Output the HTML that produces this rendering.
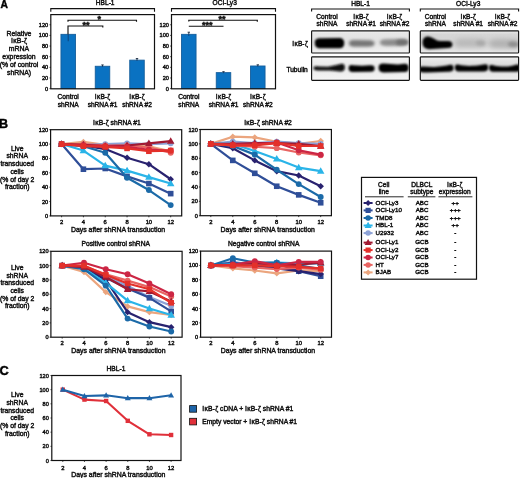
<!DOCTYPE html>
<html><head><meta charset="utf-8"><style>
html,body{margin:0;padding:0;background:#fff;width:520px;height:478px;overflow:hidden}
svg{display:block;font-family:"Liberation Sans", sans-serif;filter:blur(0.3px)}
</style></head><body>
<svg width="520" height="478" viewBox="0 0 520 478">
<g transform="translate(0.6,7.9) scale(0.87,1)">
<text x="0" y="0" font-size="11.8" text-anchor="start" font-weight="bold" fill="#000" stroke="#000" stroke-width="0.45">A</text>
</g>
<text x="-0.9" y="127.5" font-size="12.5" text-anchor="start" font-weight="bold" fill="#000" stroke="#000" stroke-width="0.45">B</text>
<text x="-0.6" y="375.2" font-size="12.8" text-anchor="start" font-weight="bold" fill="#000" stroke="#000" stroke-width="0.45">C</text>
<polyline points="50.8,11.8 50.8,8.6 154.5,8.6 154.5,11.8" stroke="#111" stroke-width="1.1" fill="none"/>
<text x="105.2" y="5.4" font-size="6.6" text-anchor="middle" font-weight="normal" fill="#111" stroke="#111" stroke-width="0.42">HBL-1</text>
<rect x="60.95" y="34.34" width="14.5" height="54.26" fill="#0a72c2" stroke="#155e9c" stroke-width="0.9"/>
<line x1="68.2" y1="34.34" x2="68.2" y2="41.25" stroke="#0b3d75" stroke-width="0.9"/>
<rect x="95.25" y="66.26" width="14.5" height="22.34" fill="#0a72c2" stroke="#155e9c" stroke-width="0.9"/>
<line x1="102.5" y1="64.93" x2="102.5" y2="66.26" stroke="#1a2a40" stroke-width="0.9"/>
<line x1="101.3" y1="64.93" x2="103.7" y2="64.93" stroke="#1a2a40" stroke-width="0.9"/>
<line x1="102.5" y1="66.26" x2="102.5" y2="67.05" stroke="#0b3d75" stroke-width="0.9"/>
<rect x="129.75" y="60.14" width="14.5" height="28.46" fill="#0a72c2" stroke="#155e9c" stroke-width="0.9"/>
<line x1="137" y1="58.54" x2="137" y2="60.14" stroke="#1a2a40" stroke-width="0.9"/>
<line x1="135.8" y1="58.54" x2="138.2" y2="58.54" stroke="#1a2a40" stroke-width="0.9"/>
<line x1="137" y1="60.14" x2="137" y2="60.94" stroke="#0b3d75" stroke-width="0.9"/>
<polyline points="68,21.8 68,20.2 136.5,20.2 136.5,21.8" stroke="#111" stroke-width="1.15" fill="none"/>
<text x="99.3" y="22.1" font-size="9" text-anchor="middle" font-weight="bold" fill="#111" stroke="#111" stroke-width="0.45">*</text>
<polyline points="68,34.3 68,26 102.8,26 102.8,27.6" stroke="#111" stroke-width="1.15" fill="none"/>
<text x="85.9" y="27.9" font-size="9" text-anchor="middle" font-weight="bold" fill="#111" stroke="#111" stroke-width="0.45">**</text>
<rect x="50.8" y="14.6" width="103.7" height="74.2" fill="none" stroke="#111" stroke-width="1.2"/>
<line x1="49.5" y1="88.6" x2="50.8" y2="88.6" stroke="#111" stroke-width="0.8"/>
<text x="48.2" y="90.6" font-size="5.6" text-anchor="end" font-weight="normal" fill="#111" stroke="#111" stroke-width="0.42">0</text>
<line x1="49.5" y1="77.96" x2="50.8" y2="77.96" stroke="#111" stroke-width="0.8"/>
<text x="48.2" y="79.96" font-size="5.6" text-anchor="end" font-weight="normal" fill="#111" stroke="#111" stroke-width="0.42">20</text>
<line x1="49.5" y1="67.32" x2="50.8" y2="67.32" stroke="#111" stroke-width="0.8"/>
<text x="48.2" y="69.32" font-size="5.6" text-anchor="end" font-weight="normal" fill="#111" stroke="#111" stroke-width="0.42">40</text>
<line x1="49.5" y1="56.68" x2="50.8" y2="56.68" stroke="#111" stroke-width="0.8"/>
<text x="48.2" y="58.68" font-size="5.6" text-anchor="end" font-weight="normal" fill="#111" stroke="#111" stroke-width="0.42">60</text>
<line x1="49.5" y1="46.04" x2="50.8" y2="46.04" stroke="#111" stroke-width="0.8"/>
<text x="48.2" y="48.04" font-size="5.6" text-anchor="end" font-weight="normal" fill="#111" stroke="#111" stroke-width="0.42">80</text>
<line x1="49.5" y1="35.4" x2="50.8" y2="35.4" stroke="#111" stroke-width="0.8"/>
<text x="48.2" y="37.4" font-size="5.6" text-anchor="end" font-weight="normal" fill="#111" stroke="#111" stroke-width="0.42">100</text>
<line x1="49.5" y1="24.76" x2="50.8" y2="24.76" stroke="#111" stroke-width="0.8"/>
<text x="48.2" y="26.76" font-size="5.6" text-anchor="end" font-weight="normal" fill="#111" stroke="#111" stroke-width="0.42">120</text>
<text x="68.2" y="98.8" font-size="6.6" text-anchor="middle" font-weight="normal" fill="#111" stroke="#111" stroke-width="0.42">Control</text>
<text x="68.2" y="106.6" font-size="6.6" text-anchor="middle" font-weight="normal" fill="#111" stroke="#111" stroke-width="0.42">shRNA</text>
<text x="102.5" y="98.8" font-size="6.6" text-anchor="middle" font-weight="normal" fill="#111" stroke="#111" stroke-width="0.42">I<tspan dx="0.35">κ</tspan><tspan dx="0.15">B</tspan>-<tspan dx="0.35">ζ</tspan></text>
<text x="102.5" y="106.6" font-size="6.6" text-anchor="middle" font-weight="normal" fill="#111" stroke="#111" stroke-width="0.42">shRNA #1</text>
<text x="137" y="98.8" font-size="6.6" text-anchor="middle" font-weight="normal" fill="#111" stroke="#111" stroke-width="0.42">I<tspan dx="0.35">κ</tspan><tspan dx="0.15">B</tspan>-<tspan dx="0.35">ζ</tspan></text>
<text x="137" y="106.6" font-size="6.6" text-anchor="middle" font-weight="normal" fill="#111" stroke="#111" stroke-width="0.42">shRNA #2</text>
<polyline points="171.5,11.8 171.5,8.6 275.5,8.6 275.5,11.8" stroke="#111" stroke-width="1.1" fill="none"/>
<text x="224.7" y="5.4" font-size="6.6" text-anchor="middle" font-weight="normal" fill="#111" stroke="#111" stroke-width="0.42">OCI-Ly3</text>
<rect x="181.55" y="34.34" width="14.5" height="54.26" fill="#0a72c2" stroke="#155e9c" stroke-width="0.9"/>
<line x1="188.8" y1="32.21" x2="188.8" y2="34.34" stroke="#1a2a40" stroke-width="0.9"/>
<line x1="187.6" y1="32.21" x2="190" y2="32.21" stroke="#1a2a40" stroke-width="0.9"/>
<line x1="188.8" y1="34.34" x2="188.8" y2="35.93" stroke="#0b3d75" stroke-width="0.9"/>
<rect x="216.25" y="72.64" width="14.5" height="15.96" fill="#0a72c2" stroke="#155e9c" stroke-width="0.9"/>
<line x1="223.5" y1="71.68" x2="223.5" y2="72.64" stroke="#1a2a40" stroke-width="0.9"/>
<line x1="222.3" y1="71.68" x2="224.7" y2="71.68" stroke="#1a2a40" stroke-width="0.9"/>
<line x1="223.5" y1="72.64" x2="223.5" y2="73.17" stroke="#0b3d75" stroke-width="0.9"/>
<rect x="250.55" y="65.99" width="14.5" height="22.61" fill="#0a72c2" stroke="#155e9c" stroke-width="0.9"/>
<line x1="257.8" y1="64.82" x2="257.8" y2="65.99" stroke="#1a2a40" stroke-width="0.9"/>
<line x1="256.6" y1="64.82" x2="259" y2="64.82" stroke="#1a2a40" stroke-width="0.9"/>
<line x1="257.8" y1="65.99" x2="257.8" y2="66.52" stroke="#0b3d75" stroke-width="0.9"/>
<polyline points="188.8,21.6 188.8,20.2 257.3,20.2 257.3,21.8" stroke="#111" stroke-width="1.15" fill="none"/>
<text x="222" y="22.1" font-size="9" text-anchor="middle" font-weight="bold" fill="#111" stroke="#111" stroke-width="0.45">**</text>
<polyline points="188.8,26.2 188.8,26.2 223.5,26.2 223.5,26.2" stroke="#111" stroke-width="1.15" fill="none"/>
<text x="207.2" y="28.1" font-size="9" text-anchor="middle" font-weight="bold" fill="#111" stroke="#111" stroke-width="0.45">***</text>
<rect x="171.5" y="14.6" width="104" height="74.2" fill="none" stroke="#111" stroke-width="1.2"/>
<line x1="170.2" y1="88.6" x2="171.5" y2="88.6" stroke="#111" stroke-width="0.8"/>
<text x="168.9" y="90.6" font-size="5.6" text-anchor="end" font-weight="normal" fill="#111" stroke="#111" stroke-width="0.42">0</text>
<line x1="170.2" y1="77.96" x2="171.5" y2="77.96" stroke="#111" stroke-width="0.8"/>
<text x="168.9" y="79.96" font-size="5.6" text-anchor="end" font-weight="normal" fill="#111" stroke="#111" stroke-width="0.42">20</text>
<line x1="170.2" y1="67.32" x2="171.5" y2="67.32" stroke="#111" stroke-width="0.8"/>
<text x="168.9" y="69.32" font-size="5.6" text-anchor="end" font-weight="normal" fill="#111" stroke="#111" stroke-width="0.42">40</text>
<line x1="170.2" y1="56.68" x2="171.5" y2="56.68" stroke="#111" stroke-width="0.8"/>
<text x="168.9" y="58.68" font-size="5.6" text-anchor="end" font-weight="normal" fill="#111" stroke="#111" stroke-width="0.42">60</text>
<line x1="170.2" y1="46.04" x2="171.5" y2="46.04" stroke="#111" stroke-width="0.8"/>
<text x="168.9" y="48.04" font-size="5.6" text-anchor="end" font-weight="normal" fill="#111" stroke="#111" stroke-width="0.42">80</text>
<line x1="170.2" y1="35.4" x2="171.5" y2="35.4" stroke="#111" stroke-width="0.8"/>
<text x="168.9" y="37.4" font-size="5.6" text-anchor="end" font-weight="normal" fill="#111" stroke="#111" stroke-width="0.42">100</text>
<line x1="170.2" y1="24.76" x2="171.5" y2="24.76" stroke="#111" stroke-width="0.8"/>
<text x="168.9" y="26.76" font-size="5.6" text-anchor="end" font-weight="normal" fill="#111" stroke="#111" stroke-width="0.42">120</text>
<text x="188.8" y="98.8" font-size="6.6" text-anchor="middle" font-weight="normal" fill="#111" stroke="#111" stroke-width="0.42">Control</text>
<text x="188.8" y="106.6" font-size="6.6" text-anchor="middle" font-weight="normal" fill="#111" stroke="#111" stroke-width="0.42">shRNA</text>
<text x="223.5" y="98.8" font-size="6.6" text-anchor="middle" font-weight="normal" fill="#111" stroke="#111" stroke-width="0.42">I<tspan dx="0.35">κ</tspan><tspan dx="0.15">B</tspan>-<tspan dx="0.35">ζ</tspan></text>
<text x="223.5" y="106.6" font-size="6.6" text-anchor="middle" font-weight="normal" fill="#111" stroke="#111" stroke-width="0.42">shRNA #1</text>
<text x="257.8" y="98.8" font-size="6.6" text-anchor="middle" font-weight="normal" fill="#111" stroke="#111" stroke-width="0.42">I<tspan dx="0.35">κ</tspan><tspan dx="0.15">B</tspan>-<tspan dx="0.35">ζ</tspan></text>
<text x="257.8" y="106.6" font-size="6.6" text-anchor="middle" font-weight="normal" fill="#111" stroke="#111" stroke-width="0.42">shRNA #2</text>
<text x="19" y="35.6" font-size="6.9" text-anchor="middle" font-weight="normal" fill="#111" stroke="#111" stroke-width="0.42">Relative</text>
<text x="19" y="43.4" font-size="6.9" text-anchor="middle" font-weight="normal" fill="#111" stroke="#111" stroke-width="0.42">I<tspan dx="0.35">κ</tspan><tspan dx="0.15">B</tspan>-<tspan dx="0.35">ζ</tspan></text>
<text x="19" y="51.2" font-size="6.9" text-anchor="middle" font-weight="normal" fill="#111" stroke="#111" stroke-width="0.42">mRNA</text>
<text x="19" y="59" font-size="6.9" text-anchor="middle" font-weight="normal" fill="#111" stroke="#111" stroke-width="0.42">expression</text>
<text x="19" y="66.8" font-size="6.9" text-anchor="middle" font-weight="normal" fill="#111" stroke="#111" stroke-width="0.42">(% of control</text>
<text x="19" y="74.6" font-size="6.9" text-anchor="middle" font-weight="normal" fill="#111" stroke="#111" stroke-width="0.42">shRNA)</text>
<defs><filter id="bl1" x="-30%" y="-80%" width="160%" height="260%"><feGaussianBlur stdDeviation="1.0"/></filter><filter id="bl2" x="-30%" y="-80%" width="160%" height="260%"><feGaussianBlur stdDeviation="1.7"/></filter><filter id="bl3" x="-30%" y="-80%" width="160%" height="260%"><feGaussianBlur stdDeviation="2.6"/></filter><clipPath id="cb1"><rect x="311.6" y="30.8" width="97.8" height="22.2"/></clipPath><clipPath id="cb2"><rect x="311.6" y="56.8" width="97.8" height="23.5"/></clipPath><clipPath id="cb3"><rect x="420.3" y="30.8" width="98.3" height="22.2"/></clipPath><clipPath id="cb4"><rect x="420.3" y="56.8" width="98.3" height="23.5"/></clipPath><linearGradient id="gH1" x1="0" y1="0" x2="0" y2="1"><stop offset="0" stop-color="#f6f6f6"/><stop offset="0.12" stop-color="#e6e6e6"/><stop offset="0.5" stop-color="#e2e2e2"/><stop offset="1" stop-color="#f2f2f2"/></linearGradient><linearGradient id="gH2" x1="0" y1="0" x2="0" y2="1"><stop offset="0" stop-color="#f4f4f4"/><stop offset="0.4" stop-color="#eaeaea"/><stop offset="1" stop-color="#f4f4f4"/></linearGradient><linearGradient id="gO1" x1="0" y1="0" x2="0" y2="1"><stop offset="0" stop-color="#eeeeee"/><stop offset="0.15" stop-color="#d6d6d6"/><stop offset="0.55" stop-color="#d2d2d2"/><stop offset="1" stop-color="#e8e8e8"/></linearGradient><linearGradient id="gO2" x1="0" y1="0" x2="0" y2="1"><stop offset="0" stop-color="#eeeeee"/><stop offset="0.3" stop-color="#dedede"/><stop offset="1" stop-color="#ececec"/></linearGradient></defs>
<polyline points="311.6,11.6 311.6,9 409.4,9 409.4,11.6" stroke="#111" stroke-width="1.1" fill="none"/>
<text x="360.5" y="5.6" font-size="6.6" text-anchor="middle" font-weight="normal" fill="#111" stroke="#111" stroke-width="0.42">HBL-1</text>
<text x="327" y="18.6" font-size="6.6" text-anchor="middle" font-weight="normal" fill="#111" stroke="#111" stroke-width="0.42">Control</text>
<text x="327" y="26.3" font-size="6.6" text-anchor="middle" font-weight="normal" fill="#111" stroke="#111" stroke-width="0.42">shRNA</text>
<text x="361" y="18.6" font-size="6.6" text-anchor="middle" font-weight="normal" fill="#111" stroke="#111" stroke-width="0.42">I<tspan dx="0.35">κ</tspan><tspan dx="0.15">B</tspan>-<tspan dx="0.35">ζ</tspan></text>
<text x="361" y="26.3" font-size="6.6" text-anchor="middle" font-weight="normal" fill="#111" stroke="#111" stroke-width="0.42">shRNA #1</text>
<text x="394.5" y="18.6" font-size="6.6" text-anchor="middle" font-weight="normal" fill="#111" stroke="#111" stroke-width="0.42">I<tspan dx="0.35">κ</tspan><tspan dx="0.15">B</tspan>-<tspan dx="0.35">ζ</tspan></text>
<text x="394.5" y="26.3" font-size="6.6" text-anchor="middle" font-weight="normal" fill="#111" stroke="#111" stroke-width="0.42">shRNA #2</text>
<rect x="311.6" y="30.8" width="97.8" height="22.2" fill="url(#gH1)" stroke="none" stroke-width="1"/>
<rect x="311.6" y="56.8" width="97.8" height="23.5" fill="url(#gH2)" stroke="none" stroke-width="1"/>
<g clip-path="url(#cb1)">
<path d="M314.8,43 C314.8,39 317,38.2 321,38.3 L338,38 C342,37.6 344.2,39 344.2,43 C344.2,47.5 342,48.3 338,48.2 L321,48.2 C317,48.4 314.8,47 314.8,43 Z" fill="#020202" filter="url(#bl1)"/>
<path d="M349,43.3 C349,40.2 352,39.8 356,40 L368,40.2 C373,40.2 374.5,41.5 374.5,43.3 C374.5,46 372,46.8 367,46.7 L355,46.8 C351,46.8 349,46 349,43.3 Z" fill="#767676" filter="url(#bl2)"/>
<path d="M380,42.5 C380,39.8 383,39.2 388,39.2 L400,39 C405,38.8 408,40 408,42.3 C408,45 405,45.8 400,45.8 L388,46 C383,46 380,45.2 380,42.5 Z" fill="#8c8c8c" filter="url(#bl2)"/>
<path d="M396,42.3 C396,40 400,39.6 404,39.8 C407.5,40 408,41 408,42.5 C408,44.6 405,45 401,45 C397,45 396,44.3 396,42.3 Z" fill="#6e6e6e" filter="url(#bl2)"/>
</g>
<g clip-path="url(#cb2)">
<path d="M313.5,68.3 C313.5,66.6 315,66.2 318,66.4 L328,66.8 C333,66 338,64.6 341.5,63.8 C344,63.5 344.8,65 344.8,67.5 C344.8,70.5 343.5,71.8 340,71.6 L330,70.6 L318,70.4 C315,70.4 313.5,70 313.5,68.3 Z" fill="#0a0a0a" filter="url(#bl1)"/>
<path d="M348.6,68.2 C348.6,65.4 350,64.8 353,65.2 L362,65.8 L370,65.2 C373.5,65 374.6,66 374.6,68.3 C374.6,71 373.5,71.9 370,71.8 L353,71.9 C350,72 348.6,71 348.6,68.2 Z" fill="#040404" filter="url(#bl1)"/>
<path d="M378.6,67.8 C378.6,64.5 380.5,63.3 384,63.6 L398,64.4 L404,63.8 C407.5,63.6 408.6,65 408.6,67.8 C408.6,71 407.5,72 404,72 L384,72.4 C380.5,72.6 378.6,71.2 378.6,67.8 Z" fill="#020202" filter="url(#bl1)"/>
</g>
<rect x="311.6" y="30.8" width="97.8" height="22.2" rx="0.8" fill="none" stroke="#151515" stroke-width="1.15"/>
<rect x="311.6" y="56.8" width="97.8" height="23.5" rx="0.8" fill="none" stroke="#151515" stroke-width="1.15"/>
<polyline points="420.3,11.6 420.3,9 518.6,9 518.6,11.6" stroke="#111" stroke-width="1.1" fill="none"/>
<text x="468.2" y="5.6" font-size="6.6" text-anchor="middle" font-weight="normal" fill="#111" stroke="#111" stroke-width="0.42">OCI-Ly3</text>
<text x="435.4" y="18.6" font-size="6.6" text-anchor="middle" font-weight="normal" fill="#111" stroke="#111" stroke-width="0.42">Control</text>
<text x="435.4" y="26.3" font-size="6.6" text-anchor="middle" font-weight="normal" fill="#111" stroke="#111" stroke-width="0.42">shRNA</text>
<text x="468.2" y="18.6" font-size="6.6" text-anchor="middle" font-weight="normal" fill="#111" stroke="#111" stroke-width="0.42">I<tspan dx="0.35">κ</tspan><tspan dx="0.15">B</tspan>-<tspan dx="0.35">ζ</tspan></text>
<text x="468.2" y="26.3" font-size="6.6" text-anchor="middle" font-weight="normal" fill="#111" stroke="#111" stroke-width="0.42">shRNA #1</text>
<text x="502.5" y="18.6" font-size="6.6" text-anchor="middle" font-weight="normal" fill="#111" stroke="#111" stroke-width="0.42">I<tspan dx="0.35">κ</tspan><tspan dx="0.15">B</tspan>-<tspan dx="0.35">ζ</tspan></text>
<text x="502.5" y="26.3" font-size="6.6" text-anchor="middle" font-weight="normal" fill="#111" stroke="#111" stroke-width="0.42">shRNA #2</text>
<rect x="420.3" y="30.8" width="98.3" height="22.2" fill="url(#gO1)" stroke="none" stroke-width="1"/>
<rect x="420.3" y="56.8" width="98.3" height="23.5" fill="url(#gO2)" stroke="none" stroke-width="1"/>
<g clip-path="url(#cb3)">
<path d="M455,43 C455,39 460,38.5 468,38.8 L480,39 C485,39.2 486.5,41 486.5,43.2 C486.5,46.5 484,47.2 478,47.2 L462,47.3 C457,47.3 455,46.5 455,43 Z" fill="#bababa" filter="url(#bl3)"/>
<path d="M476,43 C476,41 478,40.5 481,40.7 C484,41 485,42 485,43.5 C485,45 483.5,45.6 481,45.5 C478,45.4 476,44.8 476,43 Z" fill="#a8a8a8" filter="url(#bl2)"/>
<path d="M489,43.5 C489,40 494,39.2 500,39.3 L512,39.6 C517,39.8 520,41.5 520,44 C520,47.5 517,48.3 512,48.2 L497,48 C492,48 489,47 489,43.5 Z" fill="#b2b2b2" filter="url(#bl3)"/>
<path d="M508,44 C508,42 511,41.5 514,41.7 C517.5,42 518.6,43 518.6,44.5 C518.6,46.3 516.5,47 513,46.8 C509.5,46.6 508,45.8 508,44 Z" fill="#8e8e8e" filter="url(#bl2)"/>
<path d="M422.6,43 C422.4,39 424.5,36.6 428,36.6 C431.5,36.6 433.5,39 437,40.4 C440,41.2 444,41 448,40.9 C451.2,40.9 452.4,42.4 452.4,44.5 C452.4,47 451,47.9 447.5,48 L432,49.1 C426,49.7 422.8,47.8 422.6,43 Z" fill="#000000" filter="url(#bl1)"/>
</g>
<g clip-path="url(#cb4)">
<path d="M418,69 C418,66.8 420,66.2 424,66.6 L434,67 C441,66.6 446,65.8 450,64.8 C452.8,64.4 453.6,65.8 453.6,68 C453.6,70.8 452,71.8 448,71.8 L428,72.4 C421,72.8 418,72 418,69 Z" fill="#040404" filter="url(#bl1)"/>
<path d="M454.8,67.2 C454.8,64.8 456.5,64.2 459,64.8 C463,65.8 468,66.2 474,65.8 C479,65.4 483,64.4 485.5,64.2 C487.8,64.2 488.2,65.8 488.2,67.8 C488.2,70.6 486.5,71.6 483,71.5 L460,71.6 C456.5,71.6 454.8,70.4 454.8,67.2 Z" fill="#040404" filter="url(#bl1)"/>
<path d="M489,67.2 C489,64.8 491,64.6 494,65.4 C498,66.4 503,66.8 508,66.4 C512,66 515,64.6 518,64.4 C520,64.4 521,66 521,68 C521,70.8 519.5,71.8 516,71.7 L494,71.8 C490.5,71.8 489,70.4 489,67.2 Z" fill="#040404" filter="url(#bl1)"/>
</g>
<rect x="420.3" y="30.8" width="98.3" height="22.2" rx="0.8" fill="none" stroke="#151515" stroke-width="1.15"/>
<rect x="420.3" y="56.8" width="98.3" height="23.5" rx="0.8" fill="none" stroke="#151515" stroke-width="1.15"/>
<text x="307.8" y="46.3" font-size="6.6" text-anchor="end" font-weight="normal" fill="#111" stroke="#111" stroke-width="0.42">I<tspan dx="0.35">κ</tspan><tspan dx="0.15">B</tspan>-<tspan dx="0.35">ζ</tspan></text>
<text x="307.8" y="71.6" font-size="6.6" text-anchor="end" font-weight="normal" fill="#111" stroke="#111" stroke-width="0.42">Tubulin</text>
<text x="116.9" y="124.8" font-size="6.7" text-anchor="middle" font-weight="normal" fill="#111" stroke="#111" stroke-width="0.42">I<tspan dx="0.35">κ</tspan><tspan dx="0.15">B</tspan>-<tspan dx="0.35">ζ</tspan> shRNA #1</text>
<polyline points="61.6,144.07 83.42,141.91 105.24,144.78 127.06,144.78 148.88,146.22 170.7,151.25" stroke="#eba57e" stroke-width="2.2" fill="none" stroke-linejoin="round"/>
<polygon points="61.6,140.85 64.82,144.07 61.6,147.29 58.38,144.07" fill="#eba57e"/>
<polygon points="83.42,138.69 86.64,141.91 83.42,145.13 80.2,141.91" fill="#eba57e"/>
<polygon points="105.24,141.56 108.46,144.78 105.24,148 102.02,144.78" fill="#eba57e"/>
<polygon points="127.06,141.56 130.28,144.78 127.06,148 123.84,144.78" fill="#eba57e"/>
<polygon points="148.88,143 152.1,146.22 148.88,149.44 145.66,146.22" fill="#eba57e"/>
<polygon points="170.7,148.03 173.92,151.25 170.7,154.47 167.48,151.25" fill="#eba57e"/>
<polyline points="61.6,144.07 83.42,144.78 105.24,144.07 127.06,143.35 148.88,144.07 170.7,143.35" stroke="#8da2d6" stroke-width="2.2" fill="none" stroke-linejoin="round"/>
<circle cx="61.6" cy="144.07" r="2.94" fill="#8da2d6"/>
<circle cx="83.42" cy="144.78" r="2.94" fill="#8da2d6"/>
<circle cx="105.24" cy="144.07" r="2.94" fill="#8da2d6"/>
<circle cx="127.06" cy="143.35" r="2.94" fill="#8da2d6"/>
<circle cx="148.88" cy="144.07" r="2.94" fill="#8da2d6"/>
<circle cx="170.7" cy="143.35" r="2.94" fill="#8da2d6"/>
<polyline points="61.6,144.07 83.42,169.21 105.24,168.49 127.06,176.39 148.88,183.57 170.7,193.63" stroke="#2f4e98" stroke-width="2.2" fill="none" stroke-linejoin="round"/>
<rect x="58.8" y="141.27" width="5.6" height="5.6" fill="#2f4e98" stroke="none" stroke-width="1"/>
<rect x="80.62" y="166.41" width="5.6" height="5.6" fill="#2f4e98" stroke="none" stroke-width="1"/>
<rect x="102.44" y="165.69" width="5.6" height="5.6" fill="#2f4e98" stroke="none" stroke-width="1"/>
<rect x="124.26" y="173.59" width="5.6" height="5.6" fill="#2f4e98" stroke="none" stroke-width="1"/>
<rect x="146.08" y="180.77" width="5.6" height="5.6" fill="#2f4e98" stroke="none" stroke-width="1"/>
<rect x="167.9" y="190.83" width="5.6" height="5.6" fill="#2f4e98" stroke="none" stroke-width="1"/>
<polyline points="61.6,144.07 83.42,145.5 105.24,149.09 127.06,157.71 148.88,164.18 170.7,179.26" stroke="#29226f" stroke-width="2.2" fill="none" stroke-linejoin="round"/>
<polygon points="61.6,140.85 64.82,144.07 61.6,147.29 58.38,144.07" fill="#29226f"/>
<polygon points="83.42,142.28 86.64,145.5 83.42,148.72 80.2,145.5" fill="#29226f"/>
<polygon points="105.24,145.88 108.46,149.09 105.24,152.31 102.02,149.09" fill="#29226f"/>
<polygon points="127.06,154.49 130.28,157.71 127.06,160.93 123.84,157.71" fill="#29226f"/>
<polygon points="148.88,160.96 152.1,164.18 148.88,167.4 145.66,164.18" fill="#29226f"/>
<polygon points="170.7,176.04 173.92,179.26 170.7,182.48 167.48,179.26" fill="#29226f"/>
<polyline points="61.6,144.07 83.42,150.53 105.24,165.62 127.06,170.64 148.88,177.11 170.7,183.57" stroke="#2ab4e8" stroke-width="2.2" fill="none" stroke-linejoin="round"/>
<polygon points="61.6,140.15 65.38,146.73 57.82,146.73" fill="#2ab4e8"/>
<polygon points="83.42,146.61 87.2,153.19 79.64,153.19" fill="#2ab4e8"/>
<polygon points="105.24,161.7 109.02,168.28 101.46,168.28" fill="#2ab4e8"/>
<polygon points="127.06,166.72 130.84,173.3 123.28,173.3" fill="#2ab4e8"/>
<polygon points="148.88,173.19 152.66,179.77 145.1,179.77" fill="#2ab4e8"/>
<polygon points="170.7,179.66 174.48,186.23 166.92,186.23" fill="#2ab4e8"/>
<polyline points="61.6,144.07 83.42,146.22 105.24,152.69 127.06,177.83 148.88,190.04 170.7,205.12" stroke="#1b6aa8" stroke-width="2.2" fill="none" stroke-linejoin="round"/>
<circle cx="61.6" cy="144.07" r="2.94" fill="#1b6aa8"/>
<circle cx="83.42" cy="146.22" r="2.94" fill="#1b6aa8"/>
<circle cx="105.24" cy="152.69" r="2.94" fill="#1b6aa8"/>
<circle cx="127.06" cy="177.83" r="2.94" fill="#1b6aa8"/>
<circle cx="148.88" cy="190.04" r="2.94" fill="#1b6aa8"/>
<circle cx="170.7" cy="205.12" r="2.94" fill="#1b6aa8"/>
<polyline points="61.6,144.07 83.42,144.07 105.24,145.5 127.06,145.5 148.88,147.66 170.7,152.69" stroke="#e86462" stroke-width="2.2" fill="none" stroke-linejoin="round"/>
<circle cx="61.6" cy="144.07" r="2.94" fill="#e86462"/>
<circle cx="83.42" cy="144.07" r="2.94" fill="#e86462"/>
<circle cx="105.24" cy="145.5" r="2.94" fill="#e86462"/>
<circle cx="127.06" cy="145.5" r="2.94" fill="#e86462"/>
<circle cx="148.88" cy="147.66" r="2.94" fill="#e86462"/>
<circle cx="170.7" cy="152.69" r="2.94" fill="#e86462"/>
<polyline points="61.6,144.07 83.42,144.78 105.24,146.22 127.06,145.5 148.88,143.35 170.7,141.19" stroke="#a11a32" stroke-width="2.2" fill="none" stroke-linejoin="round"/>
<polygon points="61.6,140.15 65.38,146.73 57.82,146.73" fill="#a11a32"/>
<polygon points="83.42,140.87 87.2,147.44 79.64,147.44" fill="#a11a32"/>
<polygon points="105.24,142.3 109.02,148.88 101.46,148.88" fill="#a11a32"/>
<polygon points="127.06,141.58 130.84,148.16 123.28,148.16" fill="#a11a32"/>
<polygon points="148.88,139.43 152.66,146.01 145.1,146.01" fill="#a11a32"/>
<polygon points="170.7,137.27 174.48,143.85 166.92,143.85" fill="#a11a32"/>
<polyline points="61.6,144.07 83.42,145.5 105.24,146.22 127.06,146.94 148.88,149.81 170.7,150.53" stroke="#cc2644" stroke-width="2.2" fill="none" stroke-linejoin="round"/>
<circle cx="61.6" cy="144.07" r="2.94" fill="#cc2644"/>
<circle cx="83.42" cy="145.5" r="2.94" fill="#cc2644"/>
<circle cx="105.24" cy="146.22" r="2.94" fill="#cc2644"/>
<circle cx="127.06" cy="146.94" r="2.94" fill="#cc2644"/>
<circle cx="148.88" cy="149.81" r="2.94" fill="#cc2644"/>
<circle cx="170.7" cy="150.53" r="2.94" fill="#cc2644"/>
<polyline points="61.6,144.07 83.42,146.22 105.24,146.94 127.06,148.38 148.88,151.25 170.7,150.53" stroke="#e3302a" stroke-width="2.2" fill="none" stroke-linejoin="round"/>
<rect x="58.8" y="141.27" width="5.6" height="5.6" fill="#e3302a" stroke="none" stroke-width="1"/>
<rect x="80.62" y="143.42" width="5.6" height="5.6" fill="#e3302a" stroke="none" stroke-width="1"/>
<rect x="102.44" y="144.14" width="5.6" height="5.6" fill="#e3302a" stroke="none" stroke-width="1"/>
<rect x="124.26" y="145.58" width="5.6" height="5.6" fill="#e3302a" stroke="none" stroke-width="1"/>
<rect x="146.08" y="148.45" width="5.6" height="5.6" fill="#e3302a" stroke="none" stroke-width="1"/>
<rect x="167.9" y="147.73" width="5.6" height="5.6" fill="#e3302a" stroke="none" stroke-width="1"/>
<rect x="50.6" y="129.7" width="131.1" height="86.2" fill="none" stroke="#111" stroke-width="1.2"/>
<line x1="49.3" y1="215.9" x2="50.6" y2="215.9" stroke="#111" stroke-width="0.8"/>
<text x="48.2" y="217.9" font-size="5.6" text-anchor="end" font-weight="normal" fill="#111" stroke="#111" stroke-width="0.42">0</text>
<line x1="49.3" y1="201.53" x2="50.6" y2="201.53" stroke="#111" stroke-width="0.8"/>
<text x="48.2" y="203.53" font-size="5.6" text-anchor="end" font-weight="normal" fill="#111" stroke="#111" stroke-width="0.42">20</text>
<line x1="49.3" y1="187.17" x2="50.6" y2="187.17" stroke="#111" stroke-width="0.8"/>
<text x="48.2" y="189.17" font-size="5.6" text-anchor="end" font-weight="normal" fill="#111" stroke="#111" stroke-width="0.42">40</text>
<line x1="49.3" y1="172.8" x2="50.6" y2="172.8" stroke="#111" stroke-width="0.8"/>
<text x="48.2" y="174.8" font-size="5.6" text-anchor="end" font-weight="normal" fill="#111" stroke="#111" stroke-width="0.42">60</text>
<line x1="49.3" y1="158.43" x2="50.6" y2="158.43" stroke="#111" stroke-width="0.8"/>
<text x="48.2" y="160.43" font-size="5.6" text-anchor="end" font-weight="normal" fill="#111" stroke="#111" stroke-width="0.42">80</text>
<line x1="49.3" y1="144.07" x2="50.6" y2="144.07" stroke="#111" stroke-width="0.8"/>
<text x="48.2" y="146.07" font-size="5.6" text-anchor="end" font-weight="normal" fill="#111" stroke="#111" stroke-width="0.42">100</text>
<line x1="49.3" y1="129.7" x2="50.6" y2="129.7" stroke="#111" stroke-width="0.8"/>
<text x="48.2" y="131.7" font-size="5.6" text-anchor="end" font-weight="normal" fill="#111" stroke="#111" stroke-width="0.42">120</text>
<line x1="61.6" y1="215.9" x2="61.6" y2="217.3" stroke="#111" stroke-width="0.8"/>
<text x="61.6" y="224.1" font-size="5.8" text-anchor="middle" font-weight="normal" fill="#111" stroke="#111" stroke-width="0.42">2</text>
<line x1="83.42" y1="215.9" x2="83.42" y2="217.3" stroke="#111" stroke-width="0.8"/>
<text x="83.42" y="224.1" font-size="5.8" text-anchor="middle" font-weight="normal" fill="#111" stroke="#111" stroke-width="0.42">4</text>
<line x1="105.24" y1="215.9" x2="105.24" y2="217.3" stroke="#111" stroke-width="0.8"/>
<text x="105.24" y="224.1" font-size="5.8" text-anchor="middle" font-weight="normal" fill="#111" stroke="#111" stroke-width="0.42">6</text>
<line x1="127.06" y1="215.9" x2="127.06" y2="217.3" stroke="#111" stroke-width="0.8"/>
<text x="127.06" y="224.1" font-size="5.8" text-anchor="middle" font-weight="normal" fill="#111" stroke="#111" stroke-width="0.42">8</text>
<line x1="148.88" y1="215.9" x2="148.88" y2="217.3" stroke="#111" stroke-width="0.8"/>
<text x="148.88" y="224.1" font-size="5.8" text-anchor="middle" font-weight="normal" fill="#111" stroke="#111" stroke-width="0.42">10</text>
<line x1="170.7" y1="215.9" x2="170.7" y2="217.3" stroke="#111" stroke-width="0.8"/>
<text x="170.7" y="224.1" font-size="5.8" text-anchor="middle" font-weight="normal" fill="#111" stroke="#111" stroke-width="0.42">12</text>
<text x="118.05" y="231.7" font-size="6.9" text-anchor="middle" font-weight="normal" fill="#111" stroke="#111" stroke-width="0.42">Days after shRNA transduction</text>
<text x="17.2" y="150.7" font-size="6.8" text-anchor="middle" font-weight="normal" fill="#111" stroke="#111" stroke-width="0.42">Live</text>
<text x="17.2" y="158.4" font-size="6.8" text-anchor="middle" font-weight="normal" fill="#111" stroke="#111" stroke-width="0.42">shRNA</text>
<text x="17.2" y="166.1" font-size="6.8" text-anchor="middle" font-weight="normal" fill="#111" stroke="#111" stroke-width="0.42">transduced</text>
<text x="17.2" y="173.8" font-size="6.8" text-anchor="middle" font-weight="normal" fill="#111" stroke="#111" stroke-width="0.42">cells</text>
<text x="17.2" y="181.5" font-size="6.8" text-anchor="middle" font-weight="normal" fill="#111" stroke="#111" stroke-width="0.42">(% of day 2</text>
<text x="17.2" y="189.2" font-size="6.8" text-anchor="middle" font-weight="normal" fill="#111" stroke="#111" stroke-width="0.42">fraction)</text>
<text x="268" y="124.6" font-size="6.7" text-anchor="middle" font-weight="normal" fill="#111" stroke="#111" stroke-width="0.42">I<tspan dx="0.35">κ</tspan><tspan dx="0.15">B</tspan>-<tspan dx="0.35">ζ</tspan> shRNA #2</text>
<polyline points="210.8,143.87 232.78,136.68 254.76,137.4 276.74,141.71 298.72,143.87 320.7,140.99" stroke="#eba57e" stroke-width="2.2" fill="none" stroke-linejoin="round"/>
<polygon points="210.8,140.65 214.02,143.87 210.8,147.09 207.58,143.87" fill="#eba57e"/>
<polygon points="232.78,133.46 236,136.68 232.78,139.9 229.56,136.68" fill="#eba57e"/>
<polygon points="254.76,134.18 257.98,137.4 254.76,140.62 251.54,137.4" fill="#eba57e"/>
<polygon points="276.74,138.49 279.96,141.71 276.74,144.93 273.52,141.71" fill="#eba57e"/>
<polygon points="298.72,140.65 301.94,143.87 298.72,147.09 295.5,143.87" fill="#eba57e"/>
<polygon points="320.7,137.77 323.92,140.99 320.7,144.21 317.48,140.99" fill="#eba57e"/>
<polyline points="210.8,143.87 232.78,141.71 254.76,143.15 276.74,141.71 298.72,143.15 320.7,143.87" stroke="#8da2d6" stroke-width="2.2" fill="none" stroke-linejoin="round"/>
<circle cx="210.8" cy="143.87" r="2.94" fill="#8da2d6"/>
<circle cx="232.78" cy="141.71" r="2.94" fill="#8da2d6"/>
<circle cx="254.76" cy="143.15" r="2.94" fill="#8da2d6"/>
<circle cx="276.74" cy="141.71" r="2.94" fill="#8da2d6"/>
<circle cx="298.72" cy="143.15" r="2.94" fill="#8da2d6"/>
<circle cx="320.7" cy="143.87" r="2.94" fill="#8da2d6"/>
<polyline points="210.8,143.87 232.78,160.39 254.76,173.32 276.74,186.25 298.72,194.87 320.7,202.77" stroke="#2f4e98" stroke-width="2.2" fill="none" stroke-linejoin="round"/>
<rect x="208" y="141.07" width="5.6" height="5.6" fill="#2f4e98" stroke="none" stroke-width="1"/>
<rect x="229.98" y="157.59" width="5.6" height="5.6" fill="#2f4e98" stroke="none" stroke-width="1"/>
<rect x="251.96" y="170.52" width="5.6" height="5.6" fill="#2f4e98" stroke="none" stroke-width="1"/>
<rect x="273.94" y="183.45" width="5.6" height="5.6" fill="#2f4e98" stroke="none" stroke-width="1"/>
<rect x="295.92" y="192.07" width="5.6" height="5.6" fill="#2f4e98" stroke="none" stroke-width="1"/>
<rect x="317.9" y="199.97" width="5.6" height="5.6" fill="#2f4e98" stroke="none" stroke-width="1"/>
<polyline points="210.8,143.87 232.78,148.18 254.76,160.39 276.74,171.16 298.72,175.47 320.7,186.25" stroke="#29226f" stroke-width="2.2" fill="none" stroke-linejoin="round"/>
<polygon points="210.8,140.65 214.02,143.87 210.8,147.09 207.58,143.87" fill="#29226f"/>
<polygon points="232.78,144.96 236,148.18 232.78,151.4 229.56,148.18" fill="#29226f"/>
<polygon points="254.76,157.17 257.98,160.39 254.76,163.61 251.54,160.39" fill="#29226f"/>
<polygon points="276.74,167.94 279.96,171.16 276.74,174.38 273.52,171.16" fill="#29226f"/>
<polygon points="298.72,172.25 301.94,175.47 298.72,178.69 295.5,175.47" fill="#29226f"/>
<polygon points="320.7,183.03 323.92,186.25 320.7,189.47 317.48,186.25" fill="#29226f"/>
<polyline points="210.8,143.87 232.78,143.87 254.76,151.05 276.74,158.95 298.72,167.57 320.7,171.16" stroke="#2ab4e8" stroke-width="2.2" fill="none" stroke-linejoin="round"/>
<polygon points="210.8,139.95 214.58,146.53 207.02,146.53" fill="#2ab4e8"/>
<polygon points="232.78,139.95 236.56,146.53 229,146.53" fill="#2ab4e8"/>
<polygon points="254.76,147.13 258.54,153.71 250.98,153.71" fill="#2ab4e8"/>
<polygon points="276.74,155.03 280.52,161.61 272.96,161.61" fill="#2ab4e8"/>
<polygon points="298.72,163.65 302.5,170.23 294.94,170.23" fill="#2ab4e8"/>
<polygon points="320.7,167.24 324.48,173.82 316.92,173.82" fill="#2ab4e8"/>
<polyline points="210.8,143.87 232.78,146.02 254.76,154.64 276.74,169.73 298.72,184.09 320.7,197.02" stroke="#1b6aa8" stroke-width="2.2" fill="none" stroke-linejoin="round"/>
<circle cx="210.8" cy="143.87" r="2.94" fill="#1b6aa8"/>
<circle cx="232.78" cy="146.02" r="2.94" fill="#1b6aa8"/>
<circle cx="254.76" cy="154.64" r="2.94" fill="#1b6aa8"/>
<circle cx="276.74" cy="169.73" r="2.94" fill="#1b6aa8"/>
<circle cx="298.72" cy="184.09" r="2.94" fill="#1b6aa8"/>
<circle cx="320.7" cy="197.02" r="2.94" fill="#1b6aa8"/>
<polyline points="210.8,143.87 232.78,145.3 254.76,146.74 276.74,148.18 298.72,152.49 320.7,155.36" stroke="#e86462" stroke-width="2.2" fill="none" stroke-linejoin="round"/>
<circle cx="210.8" cy="143.87" r="2.94" fill="#e86462"/>
<circle cx="232.78" cy="145.3" r="2.94" fill="#e86462"/>
<circle cx="254.76" cy="146.74" r="2.94" fill="#e86462"/>
<circle cx="276.74" cy="148.18" r="2.94" fill="#e86462"/>
<circle cx="298.72" cy="152.49" r="2.94" fill="#e86462"/>
<circle cx="320.7" cy="155.36" r="2.94" fill="#e86462"/>
<polyline points="210.8,143.87 232.78,143.87 254.76,143.15 276.74,143.15 298.72,143.87 320.7,146.02" stroke="#a11a32" stroke-width="2.2" fill="none" stroke-linejoin="round"/>
<polygon points="210.8,139.95 214.58,146.53 207.02,146.53" fill="#a11a32"/>
<polygon points="232.78,139.95 236.56,146.53 229,146.53" fill="#a11a32"/>
<polygon points="254.76,139.23 258.54,145.81 250.98,145.81" fill="#a11a32"/>
<polygon points="276.74,139.23 280.52,145.81 272.96,145.81" fill="#a11a32"/>
<polygon points="298.72,139.95 302.5,146.53 294.94,146.53" fill="#a11a32"/>
<polygon points="320.7,142.1 324.48,148.68 316.92,148.68" fill="#a11a32"/>
<polyline points="210.8,143.87 232.78,144.58 254.76,144.58 276.74,142.43 298.72,150.33 320.7,154.64" stroke="#cc2644" stroke-width="2.2" fill="none" stroke-linejoin="round"/>
<circle cx="210.8" cy="143.87" r="2.94" fill="#cc2644"/>
<circle cx="232.78" cy="144.58" r="2.94" fill="#cc2644"/>
<circle cx="254.76" cy="144.58" r="2.94" fill="#cc2644"/>
<circle cx="276.74" cy="142.43" r="2.94" fill="#cc2644"/>
<circle cx="298.72" cy="150.33" r="2.94" fill="#cc2644"/>
<circle cx="320.7" cy="154.64" r="2.94" fill="#cc2644"/>
<polyline points="210.8,143.87 232.78,145.3 254.76,145.3 276.74,143.15 298.72,146.02 320.7,146.02" stroke="#e3302a" stroke-width="2.2" fill="none" stroke-linejoin="round"/>
<rect x="208" y="141.07" width="5.6" height="5.6" fill="#e3302a" stroke="none" stroke-width="1"/>
<rect x="229.98" y="142.5" width="5.6" height="5.6" fill="#e3302a" stroke="none" stroke-width="1"/>
<rect x="251.96" y="142.5" width="5.6" height="5.6" fill="#e3302a" stroke="none" stroke-width="1"/>
<rect x="273.94" y="140.35" width="5.6" height="5.6" fill="#e3302a" stroke="none" stroke-width="1"/>
<rect x="295.92" y="143.22" width="5.6" height="5.6" fill="#e3302a" stroke="none" stroke-width="1"/>
<rect x="317.9" y="143.22" width="5.6" height="5.6" fill="#e3302a" stroke="none" stroke-width="1"/>
<rect x="200.2" y="129.5" width="131.2" height="86.2" fill="none" stroke="#111" stroke-width="1.2"/>
<line x1="198.9" y1="215.7" x2="200.2" y2="215.7" stroke="#111" stroke-width="0.8"/>
<text x="197.8" y="217.7" font-size="5.6" text-anchor="end" font-weight="normal" fill="#111" stroke="#111" stroke-width="0.42">0</text>
<line x1="198.9" y1="201.33" x2="200.2" y2="201.33" stroke="#111" stroke-width="0.8"/>
<text x="197.8" y="203.33" font-size="5.6" text-anchor="end" font-weight="normal" fill="#111" stroke="#111" stroke-width="0.42">20</text>
<line x1="198.9" y1="186.97" x2="200.2" y2="186.97" stroke="#111" stroke-width="0.8"/>
<text x="197.8" y="188.97" font-size="5.6" text-anchor="end" font-weight="normal" fill="#111" stroke="#111" stroke-width="0.42">40</text>
<line x1="198.9" y1="172.6" x2="200.2" y2="172.6" stroke="#111" stroke-width="0.8"/>
<text x="197.8" y="174.6" font-size="5.6" text-anchor="end" font-weight="normal" fill="#111" stroke="#111" stroke-width="0.42">60</text>
<line x1="198.9" y1="158.23" x2="200.2" y2="158.23" stroke="#111" stroke-width="0.8"/>
<text x="197.8" y="160.23" font-size="5.6" text-anchor="end" font-weight="normal" fill="#111" stroke="#111" stroke-width="0.42">80</text>
<line x1="198.9" y1="143.87" x2="200.2" y2="143.87" stroke="#111" stroke-width="0.8"/>
<text x="197.8" y="145.87" font-size="5.6" text-anchor="end" font-weight="normal" fill="#111" stroke="#111" stroke-width="0.42">100</text>
<line x1="198.9" y1="129.5" x2="200.2" y2="129.5" stroke="#111" stroke-width="0.8"/>
<text x="197.8" y="131.5" font-size="5.6" text-anchor="end" font-weight="normal" fill="#111" stroke="#111" stroke-width="0.42">120</text>
<line x1="210.8" y1="215.7" x2="210.8" y2="217.1" stroke="#111" stroke-width="0.8"/>
<text x="210.8" y="223.9" font-size="5.8" text-anchor="middle" font-weight="normal" fill="#111" stroke="#111" stroke-width="0.42">2</text>
<line x1="232.78" y1="215.7" x2="232.78" y2="217.1" stroke="#111" stroke-width="0.8"/>
<text x="232.78" y="223.9" font-size="5.8" text-anchor="middle" font-weight="normal" fill="#111" stroke="#111" stroke-width="0.42">4</text>
<line x1="254.76" y1="215.7" x2="254.76" y2="217.1" stroke="#111" stroke-width="0.8"/>
<text x="254.76" y="223.9" font-size="5.8" text-anchor="middle" font-weight="normal" fill="#111" stroke="#111" stroke-width="0.42">6</text>
<line x1="276.74" y1="215.7" x2="276.74" y2="217.1" stroke="#111" stroke-width="0.8"/>
<text x="276.74" y="223.9" font-size="5.8" text-anchor="middle" font-weight="normal" fill="#111" stroke="#111" stroke-width="0.42">8</text>
<line x1="298.72" y1="215.7" x2="298.72" y2="217.1" stroke="#111" stroke-width="0.8"/>
<text x="298.72" y="223.9" font-size="5.8" text-anchor="middle" font-weight="normal" fill="#111" stroke="#111" stroke-width="0.42">10</text>
<line x1="320.7" y1="215.7" x2="320.7" y2="217.1" stroke="#111" stroke-width="0.8"/>
<text x="320.7" y="223.9" font-size="5.8" text-anchor="middle" font-weight="normal" fill="#111" stroke="#111" stroke-width="0.42">12</text>
<text x="267.7" y="231.5" font-size="6.9" text-anchor="middle" font-weight="normal" fill="#111" stroke="#111" stroke-width="0.42">Days after shRNA transduction</text>
<text x="115.8" y="246.4" font-size="6.7" text-anchor="middle" font-weight="normal" fill="#111" stroke="#111" stroke-width="0.42">Positive control shRNA</text>
<polyline points="62.2,265.62 84,272.06 105.8,292.1 127.6,306.42 149.4,312.15 171.2,315.01" stroke="#eba57e" stroke-width="2.2" fill="none" stroke-linejoin="round"/>
<polygon points="62.2,262.4 65.42,265.62 62.2,268.84 58.98,265.62" fill="#eba57e"/>
<polygon points="84,268.84 87.22,272.06 84,275.28 80.78,272.06" fill="#eba57e"/>
<polygon points="105.8,288.88 109.02,292.1 105.8,295.32 102.58,292.1" fill="#eba57e"/>
<polygon points="127.6,303.2 130.82,306.42 127.6,309.64 124.38,306.42" fill="#eba57e"/>
<polygon points="149.4,308.93 152.62,312.15 149.4,315.37 146.18,312.15" fill="#eba57e"/>
<polygon points="171.2,311.79 174.42,315.01 171.2,318.23 167.98,315.01" fill="#eba57e"/>
<polyline points="62.2,265.62 84,267.76 105.8,276.35 127.6,285.66 149.4,297.11 171.2,305.7" stroke="#8da2d6" stroke-width="2.2" fill="none" stroke-linejoin="round"/>
<circle cx="62.2" cy="265.62" r="2.94" fill="#8da2d6"/>
<circle cx="84" cy="267.76" r="2.94" fill="#8da2d6"/>
<circle cx="105.8" cy="276.35" r="2.94" fill="#8da2d6"/>
<circle cx="127.6" cy="285.66" r="2.94" fill="#8da2d6"/>
<circle cx="149.4" cy="297.11" r="2.94" fill="#8da2d6"/>
<circle cx="171.2" cy="305.7" r="2.94" fill="#8da2d6"/>
<polyline points="62.2,265.62 84,267.76 105.8,277.79 127.6,288.52 149.4,297.83 171.2,311.43" stroke="#2f4e98" stroke-width="2.2" fill="none" stroke-linejoin="round"/>
<rect x="59.4" y="262.82" width="5.6" height="5.6" fill="#2f4e98" stroke="none" stroke-width="1"/>
<rect x="81.2" y="264.96" width="5.6" height="5.6" fill="#2f4e98" stroke="none" stroke-width="1"/>
<rect x="103" y="274.99" width="5.6" height="5.6" fill="#2f4e98" stroke="none" stroke-width="1"/>
<rect x="124.8" y="285.72" width="5.6" height="5.6" fill="#2f4e98" stroke="none" stroke-width="1"/>
<rect x="146.6" y="295.03" width="5.6" height="5.6" fill="#2f4e98" stroke="none" stroke-width="1"/>
<rect x="168.4" y="308.63" width="5.6" height="5.6" fill="#2f4e98" stroke="none" stroke-width="1"/>
<polyline points="62.2,265.62 84,267.76 105.8,279.93 127.6,312.15 149.4,322.17 171.2,327.18" stroke="#29226f" stroke-width="2.2" fill="none" stroke-linejoin="round"/>
<polygon points="62.2,262.4 65.42,265.62 62.2,268.84 58.98,265.62" fill="#29226f"/>
<polygon points="84,264.54 87.22,267.76 84,270.98 80.78,267.76" fill="#29226f"/>
<polygon points="105.8,276.71 109.02,279.93 105.8,283.15 102.58,279.93" fill="#29226f"/>
<polygon points="127.6,308.93 130.82,312.15 127.6,315.37 124.38,312.15" fill="#29226f"/>
<polygon points="149.4,318.95 152.62,322.17 149.4,325.39 146.18,322.17" fill="#29226f"/>
<polygon points="171.2,323.96 174.42,327.18 171.2,330.4 167.98,327.18" fill="#29226f"/>
<polyline points="62.2,265.62 84,268.48 105.8,282.8 127.6,300.69 149.4,308.57 171.2,315.01" stroke="#2ab4e8" stroke-width="2.2" fill="none" stroke-linejoin="round"/>
<polygon points="62.2,261.7 65.98,268.28 58.42,268.28" fill="#2ab4e8"/>
<polygon points="84,264.56 87.78,271.14 80.22,271.14" fill="#2ab4e8"/>
<polygon points="105.8,278.88 109.58,285.46 102.02,285.46" fill="#2ab4e8"/>
<polygon points="127.6,296.77 131.38,303.35 123.82,303.35" fill="#2ab4e8"/>
<polygon points="149.4,304.65 153.18,311.23 145.62,311.23" fill="#2ab4e8"/>
<polygon points="171.2,311.09 174.98,317.67 167.42,317.67" fill="#2ab4e8"/>
<polyline points="62.2,265.62 84,269.2 105.8,285.66 127.6,318.59 149.4,326.46 171.2,331.47" stroke="#1b6aa8" stroke-width="2.2" fill="none" stroke-linejoin="round"/>
<circle cx="62.2" cy="265.62" r="2.94" fill="#1b6aa8"/>
<circle cx="84" cy="269.2" r="2.94" fill="#1b6aa8"/>
<circle cx="105.8" cy="285.66" r="2.94" fill="#1b6aa8"/>
<circle cx="127.6" cy="318.59" r="2.94" fill="#1b6aa8"/>
<circle cx="149.4" cy="326.46" r="2.94" fill="#1b6aa8"/>
<circle cx="171.2" cy="331.47" r="2.94" fill="#1b6aa8"/>
<polyline points="62.2,265.62 84,266.33 105.8,274.21 127.6,280.65 149.4,287.09 171.2,296.4" stroke="#e86462" stroke-width="2.2" fill="none" stroke-linejoin="round"/>
<circle cx="62.2" cy="265.62" r="2.94" fill="#e86462"/>
<circle cx="84" cy="266.33" r="2.94" fill="#e86462"/>
<circle cx="105.8" cy="274.21" r="2.94" fill="#e86462"/>
<circle cx="127.6" cy="280.65" r="2.94" fill="#e86462"/>
<circle cx="149.4" cy="287.09" r="2.94" fill="#e86462"/>
<circle cx="171.2" cy="296.4" r="2.94" fill="#e86462"/>
<polyline points="62.2,265.62 84,267.05 105.8,277.07 127.6,289.24 149.4,291.39 171.2,301.41" stroke="#a11a32" stroke-width="2.2" fill="none" stroke-linejoin="round"/>
<polygon points="62.2,261.7 65.98,268.28 58.42,268.28" fill="#a11a32"/>
<polygon points="84,263.13 87.78,269.71 80.22,269.71" fill="#a11a32"/>
<polygon points="105.8,273.15 109.58,279.73 102.02,279.73" fill="#a11a32"/>
<polygon points="127.6,285.32 131.38,291.9 123.82,291.9" fill="#a11a32"/>
<polygon points="149.4,287.47 153.18,294.05 145.62,294.05" fill="#a11a32"/>
<polygon points="171.2,297.49 174.98,304.07 167.42,304.07" fill="#a11a32"/>
<polyline points="62.2,265.62 84,262.75 105.8,269.2 127.6,274.21 149.4,283.51 171.2,294.25" stroke="#cc2644" stroke-width="2.2" fill="none" stroke-linejoin="round"/>
<circle cx="62.2" cy="265.62" r="2.94" fill="#cc2644"/>
<circle cx="84" cy="262.75" r="2.94" fill="#cc2644"/>
<circle cx="105.8" cy="269.2" r="2.94" fill="#cc2644"/>
<circle cx="127.6" cy="274.21" r="2.94" fill="#cc2644"/>
<circle cx="149.4" cy="283.51" r="2.94" fill="#cc2644"/>
<circle cx="171.2" cy="294.25" r="2.94" fill="#cc2644"/>
<polyline points="62.2,265.62 84,265.62 105.8,274.92 127.6,283.51 149.4,289.24 171.2,302.84" stroke="#e3302a" stroke-width="2.2" fill="none" stroke-linejoin="round"/>
<rect x="59.4" y="262.82" width="5.6" height="5.6" fill="#e3302a" stroke="none" stroke-width="1"/>
<rect x="81.2" y="262.82" width="5.6" height="5.6" fill="#e3302a" stroke="none" stroke-width="1"/>
<rect x="103" y="272.12" width="5.6" height="5.6" fill="#e3302a" stroke="none" stroke-width="1"/>
<rect x="124.8" y="280.71" width="5.6" height="5.6" fill="#e3302a" stroke="none" stroke-width="1"/>
<rect x="146.6" y="286.44" width="5.6" height="5.6" fill="#e3302a" stroke="none" stroke-width="1"/>
<rect x="168.4" y="300.04" width="5.6" height="5.6" fill="#e3302a" stroke="none" stroke-width="1"/>
<rect x="50.9" y="251.3" width="131.2" height="85.9" fill="none" stroke="#111" stroke-width="1.2"/>
<line x1="49.6" y1="337.2" x2="50.9" y2="337.2" stroke="#111" stroke-width="0.8"/>
<text x="48.5" y="339.2" font-size="5.6" text-anchor="end" font-weight="normal" fill="#111" stroke="#111" stroke-width="0.42">0</text>
<line x1="49.6" y1="322.88" x2="50.9" y2="322.88" stroke="#111" stroke-width="0.8"/>
<text x="48.5" y="324.88" font-size="5.6" text-anchor="end" font-weight="normal" fill="#111" stroke="#111" stroke-width="0.42">20</text>
<line x1="49.6" y1="308.57" x2="50.9" y2="308.57" stroke="#111" stroke-width="0.8"/>
<text x="48.5" y="310.57" font-size="5.6" text-anchor="end" font-weight="normal" fill="#111" stroke="#111" stroke-width="0.42">40</text>
<line x1="49.6" y1="294.25" x2="50.9" y2="294.25" stroke="#111" stroke-width="0.8"/>
<text x="48.5" y="296.25" font-size="5.6" text-anchor="end" font-weight="normal" fill="#111" stroke="#111" stroke-width="0.42">60</text>
<line x1="49.6" y1="279.93" x2="50.9" y2="279.93" stroke="#111" stroke-width="0.8"/>
<text x="48.5" y="281.93" font-size="5.6" text-anchor="end" font-weight="normal" fill="#111" stroke="#111" stroke-width="0.42">80</text>
<line x1="49.6" y1="265.62" x2="50.9" y2="265.62" stroke="#111" stroke-width="0.8"/>
<text x="48.5" y="267.62" font-size="5.6" text-anchor="end" font-weight="normal" fill="#111" stroke="#111" stroke-width="0.42">100</text>
<line x1="49.6" y1="251.3" x2="50.9" y2="251.3" stroke="#111" stroke-width="0.8"/>
<text x="48.5" y="253.3" font-size="5.6" text-anchor="end" font-weight="normal" fill="#111" stroke="#111" stroke-width="0.42">120</text>
<line x1="62.2" y1="337.2" x2="62.2" y2="338.6" stroke="#111" stroke-width="0.8"/>
<text x="62.2" y="345.4" font-size="5.8" text-anchor="middle" font-weight="normal" fill="#111" stroke="#111" stroke-width="0.42">2</text>
<line x1="84" y1="337.2" x2="84" y2="338.6" stroke="#111" stroke-width="0.8"/>
<text x="84" y="345.4" font-size="5.8" text-anchor="middle" font-weight="normal" fill="#111" stroke="#111" stroke-width="0.42">4</text>
<line x1="105.8" y1="337.2" x2="105.8" y2="338.6" stroke="#111" stroke-width="0.8"/>
<text x="105.8" y="345.4" font-size="5.8" text-anchor="middle" font-weight="normal" fill="#111" stroke="#111" stroke-width="0.42">6</text>
<line x1="127.6" y1="337.2" x2="127.6" y2="338.6" stroke="#111" stroke-width="0.8"/>
<text x="127.6" y="345.4" font-size="5.8" text-anchor="middle" font-weight="normal" fill="#111" stroke="#111" stroke-width="0.42">8</text>
<line x1="149.4" y1="337.2" x2="149.4" y2="338.6" stroke="#111" stroke-width="0.8"/>
<text x="149.4" y="345.4" font-size="5.8" text-anchor="middle" font-weight="normal" fill="#111" stroke="#111" stroke-width="0.42">10</text>
<line x1="171.2" y1="337.2" x2="171.2" y2="338.6" stroke="#111" stroke-width="0.8"/>
<text x="171.2" y="345.4" font-size="5.8" text-anchor="middle" font-weight="normal" fill="#111" stroke="#111" stroke-width="0.42">12</text>
<text x="118.4" y="353" font-size="6.9" text-anchor="middle" font-weight="normal" fill="#111" stroke="#111" stroke-width="0.42">Days after shRNA transduction</text>
<text x="17.2" y="269.8" font-size="6.8" text-anchor="middle" font-weight="normal" fill="#111" stroke="#111" stroke-width="0.42">Live</text>
<text x="17.2" y="277.5" font-size="6.8" text-anchor="middle" font-weight="normal" fill="#111" stroke="#111" stroke-width="0.42">shRNA</text>
<text x="17.2" y="285.2" font-size="6.8" text-anchor="middle" font-weight="normal" fill="#111" stroke="#111" stroke-width="0.42">transduced</text>
<text x="17.2" y="292.9" font-size="6.8" text-anchor="middle" font-weight="normal" fill="#111" stroke="#111" stroke-width="0.42">cells</text>
<text x="17.2" y="300.6" font-size="6.8" text-anchor="middle" font-weight="normal" fill="#111" stroke="#111" stroke-width="0.42">(% of day 2</text>
<text x="17.2" y="308.3" font-size="6.8" text-anchor="middle" font-weight="normal" fill="#111" stroke="#111" stroke-width="0.42">fraction)</text>
<text x="263.7" y="246.2" font-size="6.7" text-anchor="middle" font-weight="normal" fill="#111" stroke="#111" stroke-width="0.42">Negative control shRNA</text>
<polyline points="210.9,265.45 232.86,268.32 254.82,270.47 276.78,273.34 298.74,270.47 320.7,271.19" stroke="#eba57e" stroke-width="2.2" fill="none" stroke-linejoin="round"/>
<polygon points="210.9,262.23 214.12,265.45 210.9,268.67 207.68,265.45" fill="#eba57e"/>
<polygon points="232.86,265.1 236.08,268.32 232.86,271.54 229.64,268.32" fill="#eba57e"/>
<polygon points="254.82,267.25 258.04,270.47 254.82,273.69 251.6,270.47" fill="#eba57e"/>
<polygon points="276.78,270.12 280,273.34 276.78,276.56 273.56,273.34" fill="#eba57e"/>
<polygon points="298.74,267.25 301.96,270.47 298.74,273.69 295.52,270.47" fill="#eba57e"/>
<polygon points="320.7,267.97 323.92,271.19 320.7,274.41 317.48,271.19" fill="#eba57e"/>
<polyline points="210.9,265.45 232.86,261.86 254.82,265.45 276.78,264.01 298.74,264.73 320.7,262.58" stroke="#8da2d6" stroke-width="2.2" fill="none" stroke-linejoin="round"/>
<circle cx="210.9" cy="265.45" r="2.94" fill="#8da2d6"/>
<circle cx="232.86" cy="261.86" r="2.94" fill="#8da2d6"/>
<circle cx="254.82" cy="265.45" r="2.94" fill="#8da2d6"/>
<circle cx="276.78" cy="264.01" r="2.94" fill="#8da2d6"/>
<circle cx="298.74" cy="264.73" r="2.94" fill="#8da2d6"/>
<circle cx="320.7" cy="262.58" r="2.94" fill="#8da2d6"/>
<polyline points="210.9,265.45 232.86,262.58 254.82,265.45 276.78,263.3 298.74,271.19 320.7,276.21" stroke="#2f4e98" stroke-width="2.2" fill="none" stroke-linejoin="round"/>
<rect x="208.1" y="262.65" width="5.6" height="5.6" fill="#2f4e98" stroke="none" stroke-width="1"/>
<rect x="230.06" y="259.78" width="5.6" height="5.6" fill="#2f4e98" stroke="none" stroke-width="1"/>
<rect x="252.02" y="262.65" width="5.6" height="5.6" fill="#2f4e98" stroke="none" stroke-width="1"/>
<rect x="273.98" y="260.5" width="5.6" height="5.6" fill="#2f4e98" stroke="none" stroke-width="1"/>
<rect x="295.94" y="268.39" width="5.6" height="5.6" fill="#2f4e98" stroke="none" stroke-width="1"/>
<rect x="317.9" y="273.41" width="5.6" height="5.6" fill="#2f4e98" stroke="none" stroke-width="1"/>
<polyline points="210.9,265.45 232.86,264.01 254.82,265.45 276.78,268.32 298.74,271.19 320.7,274.06" stroke="#29226f" stroke-width="2.2" fill="none" stroke-linejoin="round"/>
<polygon points="210.9,262.23 214.12,265.45 210.9,268.67 207.68,265.45" fill="#29226f"/>
<polygon points="232.86,260.79 236.08,264.01 232.86,267.24 229.64,264.01" fill="#29226f"/>
<polygon points="254.82,262.23 258.04,265.45 254.82,268.67 251.6,265.45" fill="#29226f"/>
<polygon points="276.78,265.1 280,268.32 276.78,271.54 273.56,268.32" fill="#29226f"/>
<polygon points="298.74,267.97 301.96,271.19 298.74,274.41 295.52,271.19" fill="#29226f"/>
<polygon points="320.7,270.84 323.92,274.06 320.7,277.28 317.48,274.06" fill="#29226f"/>
<polyline points="210.9,265.45 232.86,264.01 254.82,263.3 276.78,262.58 298.74,263.3 320.7,263.3" stroke="#2ab4e8" stroke-width="2.2" fill="none" stroke-linejoin="round"/>
<polygon points="210.9,261.53 214.68,268.11 207.12,268.11" fill="#2ab4e8"/>
<polygon points="232.86,260.09 236.64,266.68 229.08,266.68" fill="#2ab4e8"/>
<polygon points="254.82,259.38 258.6,265.96 251.04,265.96" fill="#2ab4e8"/>
<polygon points="276.78,258.66 280.56,265.24 273,265.24" fill="#2ab4e8"/>
<polygon points="298.74,259.38 302.52,265.96 294.96,265.96" fill="#2ab4e8"/>
<polygon points="320.7,259.38 324.48,265.96 316.92,265.96" fill="#2ab4e8"/>
<polyline points="210.9,265.45 232.86,258.27 254.82,262.58 276.78,262.58 298.74,265.45 320.7,269.04" stroke="#1b6aa8" stroke-width="2.2" fill="none" stroke-linejoin="round"/>
<circle cx="210.9" cy="265.45" r="2.94" fill="#1b6aa8"/>
<circle cx="232.86" cy="258.27" r="2.94" fill="#1b6aa8"/>
<circle cx="254.82" cy="262.58" r="2.94" fill="#1b6aa8"/>
<circle cx="276.78" cy="262.58" r="2.94" fill="#1b6aa8"/>
<circle cx="298.74" cy="265.45" r="2.94" fill="#1b6aa8"/>
<circle cx="320.7" cy="269.04" r="2.94" fill="#1b6aa8"/>
<polyline points="210.9,265.45 232.86,266.17 254.82,267.6 276.78,269.04 298.74,267.6 320.7,269.75" stroke="#e86462" stroke-width="2.2" fill="none" stroke-linejoin="round"/>
<circle cx="210.9" cy="265.45" r="2.94" fill="#e86462"/>
<circle cx="232.86" cy="266.17" r="2.94" fill="#e86462"/>
<circle cx="254.82" cy="267.6" r="2.94" fill="#e86462"/>
<circle cx="276.78" cy="269.04" r="2.94" fill="#e86462"/>
<circle cx="298.74" cy="267.6" r="2.94" fill="#e86462"/>
<circle cx="320.7" cy="269.75" r="2.94" fill="#e86462"/>
<polyline points="210.9,265.45 232.86,264.73 254.82,262.58 276.78,265.45 298.74,264.73 320.7,262.58" stroke="#a11a32" stroke-width="2.2" fill="none" stroke-linejoin="round"/>
<polygon points="210.9,261.53 214.68,268.11 207.12,268.11" fill="#a11a32"/>
<polygon points="232.86,260.81 236.64,267.39 229.08,267.39" fill="#a11a32"/>
<polygon points="254.82,258.66 258.6,265.24 251.04,265.24" fill="#a11a32"/>
<polygon points="276.78,261.53 280.56,268.11 273,268.11" fill="#a11a32"/>
<polygon points="298.74,260.81 302.52,267.39 294.96,267.39" fill="#a11a32"/>
<polygon points="320.7,258.66 324.48,265.24 316.92,265.24" fill="#a11a32"/>
<polyline points="210.9,265.45 232.86,264.73 254.82,261.14 276.78,265.45 298.74,261.86 320.7,261.86" stroke="#cc2644" stroke-width="2.2" fill="none" stroke-linejoin="round"/>
<circle cx="210.9" cy="265.45" r="2.94" fill="#cc2644"/>
<circle cx="232.86" cy="264.73" r="2.94" fill="#cc2644"/>
<circle cx="254.82" cy="261.14" r="2.94" fill="#cc2644"/>
<circle cx="276.78" cy="265.45" r="2.94" fill="#cc2644"/>
<circle cx="298.74" cy="261.86" r="2.94" fill="#cc2644"/>
<circle cx="320.7" cy="261.86" r="2.94" fill="#cc2644"/>
<polyline points="210.9,265.45 232.86,265.45 254.82,265.45 276.78,266.17 298.74,266.88 320.7,268.32" stroke="#e3302a" stroke-width="2.2" fill="none" stroke-linejoin="round"/>
<rect x="208.1" y="262.65" width="5.6" height="5.6" fill="#e3302a" stroke="none" stroke-width="1"/>
<rect x="230.06" y="262.65" width="5.6" height="5.6" fill="#e3302a" stroke="none" stroke-width="1"/>
<rect x="252.02" y="262.65" width="5.6" height="5.6" fill="#e3302a" stroke="none" stroke-width="1"/>
<rect x="273.98" y="263.37" width="5.6" height="5.6" fill="#e3302a" stroke="none" stroke-width="1"/>
<rect x="295.94" y="264.08" width="5.6" height="5.6" fill="#e3302a" stroke="none" stroke-width="1"/>
<rect x="317.9" y="265.52" width="5.6" height="5.6" fill="#e3302a" stroke="none" stroke-width="1"/>
<rect x="200.6" y="251.1" width="130.9" height="86.1" fill="none" stroke="#111" stroke-width="1.2"/>
<line x1="199.3" y1="337.2" x2="200.6" y2="337.2" stroke="#111" stroke-width="0.8"/>
<text x="198.2" y="339.2" font-size="5.6" text-anchor="end" font-weight="normal" fill="#111" stroke="#111" stroke-width="0.42">0</text>
<line x1="199.3" y1="322.85" x2="200.6" y2="322.85" stroke="#111" stroke-width="0.8"/>
<text x="198.2" y="324.85" font-size="5.6" text-anchor="end" font-weight="normal" fill="#111" stroke="#111" stroke-width="0.42">20</text>
<line x1="199.3" y1="308.5" x2="200.6" y2="308.5" stroke="#111" stroke-width="0.8"/>
<text x="198.2" y="310.5" font-size="5.6" text-anchor="end" font-weight="normal" fill="#111" stroke="#111" stroke-width="0.42">40</text>
<line x1="199.3" y1="294.15" x2="200.6" y2="294.15" stroke="#111" stroke-width="0.8"/>
<text x="198.2" y="296.15" font-size="5.6" text-anchor="end" font-weight="normal" fill="#111" stroke="#111" stroke-width="0.42">60</text>
<line x1="199.3" y1="279.8" x2="200.6" y2="279.8" stroke="#111" stroke-width="0.8"/>
<text x="198.2" y="281.8" font-size="5.6" text-anchor="end" font-weight="normal" fill="#111" stroke="#111" stroke-width="0.42">80</text>
<line x1="199.3" y1="265.45" x2="200.6" y2="265.45" stroke="#111" stroke-width="0.8"/>
<text x="198.2" y="267.45" font-size="5.6" text-anchor="end" font-weight="normal" fill="#111" stroke="#111" stroke-width="0.42">100</text>
<line x1="199.3" y1="251.1" x2="200.6" y2="251.1" stroke="#111" stroke-width="0.8"/>
<text x="198.2" y="253.1" font-size="5.6" text-anchor="end" font-weight="normal" fill="#111" stroke="#111" stroke-width="0.42">120</text>
<line x1="210.9" y1="337.2" x2="210.9" y2="338.6" stroke="#111" stroke-width="0.8"/>
<text x="210.9" y="345.4" font-size="5.8" text-anchor="middle" font-weight="normal" fill="#111" stroke="#111" stroke-width="0.42">2</text>
<line x1="232.86" y1="337.2" x2="232.86" y2="338.6" stroke="#111" stroke-width="0.8"/>
<text x="232.86" y="345.4" font-size="5.8" text-anchor="middle" font-weight="normal" fill="#111" stroke="#111" stroke-width="0.42">4</text>
<line x1="254.82" y1="337.2" x2="254.82" y2="338.6" stroke="#111" stroke-width="0.8"/>
<text x="254.82" y="345.4" font-size="5.8" text-anchor="middle" font-weight="normal" fill="#111" stroke="#111" stroke-width="0.42">6</text>
<line x1="276.78" y1="337.2" x2="276.78" y2="338.6" stroke="#111" stroke-width="0.8"/>
<text x="276.78" y="345.4" font-size="5.8" text-anchor="middle" font-weight="normal" fill="#111" stroke="#111" stroke-width="0.42">8</text>
<line x1="298.74" y1="337.2" x2="298.74" y2="338.6" stroke="#111" stroke-width="0.8"/>
<text x="298.74" y="345.4" font-size="5.8" text-anchor="middle" font-weight="normal" fill="#111" stroke="#111" stroke-width="0.42">10</text>
<line x1="320.7" y1="337.2" x2="320.7" y2="338.6" stroke="#111" stroke-width="0.8"/>
<text x="320.7" y="345.4" font-size="5.8" text-anchor="middle" font-weight="normal" fill="#111" stroke="#111" stroke-width="0.42">12</text>
<text x="267.95" y="353" font-size="6.9" text-anchor="middle" font-weight="normal" fill="#111" stroke="#111" stroke-width="0.42">Days after shRNA transduction</text>
<text x="116" y="371.1" font-size="6.7" text-anchor="middle" font-weight="normal" fill="#111" stroke="#111" stroke-width="0.42">HBL-1</text>
<polyline points="62.8,389.67 84.46,399.58 106.12,401 127.78,420.83 149.44,434.29 171.1,435" stroke="#e0303a" stroke-width="2.1" fill="none" stroke-linejoin="round"/>
<rect x="60.6" y="387.47" width="4.4" height="4.4" fill="#e0303a" stroke="none" stroke-width="1"/>
<rect x="82.26" y="397.38" width="4.4" height="4.4" fill="#e0303a" stroke="none" stroke-width="1"/>
<rect x="103.92" y="398.8" width="4.4" height="4.4" fill="#e0303a" stroke="none" stroke-width="1"/>
<rect x="125.58" y="418.63" width="4.4" height="4.4" fill="#e0303a" stroke="none" stroke-width="1"/>
<rect x="147.24" y="432.09" width="4.4" height="4.4" fill="#e0303a" stroke="none" stroke-width="1"/>
<rect x="168.9" y="432.8" width="4.4" height="4.4" fill="#e0303a" stroke="none" stroke-width="1"/>
<polyline points="62.8,389.67 84.46,396.04 106.12,395.33 127.78,398.17 149.44,398.17 171.1,395.33" stroke="#1e64a8" stroke-width="2.1" fill="none" stroke-linejoin="round"/>
<polygon points="62.8,386.59 65.77,391.76 59.83,391.76" fill="#1e64a8"/>
<polygon points="84.46,392.96 87.43,398.13 81.49,398.13" fill="#1e64a8"/>
<polygon points="106.12,392.25 109.09,397.42 103.15,397.42" fill="#1e64a8"/>
<polygon points="127.78,395.09 130.75,400.26 124.81,400.26" fill="#1e64a8"/>
<polygon points="149.44,395.09 152.41,400.26 146.47,400.26" fill="#1e64a8"/>
<polygon points="171.1,392.25 174.07,397.42 168.13,397.42" fill="#1e64a8"/>
<rect x="51.8" y="375.5" width="129.2" height="85" fill="none" stroke="#111" stroke-width="1.2"/>
<line x1="50.5" y1="460.5" x2="51.8" y2="460.5" stroke="#111" stroke-width="0.8"/>
<text x="48.8" y="462.5" font-size="5.6" text-anchor="end" font-weight="normal" fill="#111" stroke="#111" stroke-width="0.42">0</text>
<line x1="50.5" y1="446.33" x2="51.8" y2="446.33" stroke="#111" stroke-width="0.8"/>
<text x="48.8" y="448.33" font-size="5.6" text-anchor="end" font-weight="normal" fill="#111" stroke="#111" stroke-width="0.42">20</text>
<line x1="50.5" y1="432.17" x2="51.8" y2="432.17" stroke="#111" stroke-width="0.8"/>
<text x="48.8" y="434.17" font-size="5.6" text-anchor="end" font-weight="normal" fill="#111" stroke="#111" stroke-width="0.42">40</text>
<line x1="50.5" y1="418" x2="51.8" y2="418" stroke="#111" stroke-width="0.8"/>
<text x="48.8" y="420" font-size="5.6" text-anchor="end" font-weight="normal" fill="#111" stroke="#111" stroke-width="0.42">60</text>
<line x1="50.5" y1="403.83" x2="51.8" y2="403.83" stroke="#111" stroke-width="0.8"/>
<text x="48.8" y="405.83" font-size="5.6" text-anchor="end" font-weight="normal" fill="#111" stroke="#111" stroke-width="0.42">80</text>
<line x1="50.5" y1="389.67" x2="51.8" y2="389.67" stroke="#111" stroke-width="0.8"/>
<text x="48.8" y="391.67" font-size="5.6" text-anchor="end" font-weight="normal" fill="#111" stroke="#111" stroke-width="0.42">100</text>
<line x1="50.5" y1="375.5" x2="51.8" y2="375.5" stroke="#111" stroke-width="0.8"/>
<text x="48.8" y="377.5" font-size="5.6" text-anchor="end" font-weight="normal" fill="#111" stroke="#111" stroke-width="0.42">120</text>
<line x1="62.8" y1="460.5" x2="62.8" y2="461.9" stroke="#111" stroke-width="0.8"/>
<text x="62.8" y="469.5" font-size="5.8" text-anchor="middle" font-weight="normal" fill="#111" stroke="#111" stroke-width="0.42">2</text>
<line x1="84.46" y1="460.5" x2="84.46" y2="461.9" stroke="#111" stroke-width="0.8"/>
<text x="84.46" y="469.5" font-size="5.8" text-anchor="middle" font-weight="normal" fill="#111" stroke="#111" stroke-width="0.42">4</text>
<line x1="106.12" y1="460.5" x2="106.12" y2="461.9" stroke="#111" stroke-width="0.8"/>
<text x="106.12" y="469.5" font-size="5.8" text-anchor="middle" font-weight="normal" fill="#111" stroke="#111" stroke-width="0.42">6</text>
<line x1="127.78" y1="460.5" x2="127.78" y2="461.9" stroke="#111" stroke-width="0.8"/>
<text x="127.78" y="469.5" font-size="5.8" text-anchor="middle" font-weight="normal" fill="#111" stroke="#111" stroke-width="0.42">8</text>
<line x1="149.44" y1="460.5" x2="149.44" y2="461.9" stroke="#111" stroke-width="0.8"/>
<text x="149.44" y="469.5" font-size="5.8" text-anchor="middle" font-weight="normal" fill="#111" stroke="#111" stroke-width="0.42">10</text>
<line x1="171.1" y1="460.5" x2="171.1" y2="461.9" stroke="#111" stroke-width="0.8"/>
<text x="171.1" y="469.5" font-size="5.8" text-anchor="middle" font-weight="normal" fill="#111" stroke="#111" stroke-width="0.42">12</text>
<text x="118.3" y="477.1" font-size="6.9" text-anchor="middle" font-weight="normal" fill="#111" stroke="#111" stroke-width="0.42">Days after shRNA transduction</text>
<text x="17.2" y="397.2" font-size="6.8" text-anchor="middle" font-weight="normal" fill="#111" stroke="#111" stroke-width="0.42">Live</text>
<text x="17.2" y="404.9" font-size="6.8" text-anchor="middle" font-weight="normal" fill="#111" stroke="#111" stroke-width="0.42">shRNA</text>
<text x="17.2" y="412.6" font-size="6.8" text-anchor="middle" font-weight="normal" fill="#111" stroke="#111" stroke-width="0.42">transduced</text>
<text x="17.2" y="420.3" font-size="6.8" text-anchor="middle" font-weight="normal" fill="#111" stroke="#111" stroke-width="0.42">cells</text>
<text x="17.2" y="428" font-size="6.8" text-anchor="middle" font-weight="normal" fill="#111" stroke="#111" stroke-width="0.42">(% of day 2</text>
<text x="17.2" y="435.7" font-size="6.8" text-anchor="middle" font-weight="normal" fill="#111" stroke="#111" stroke-width="0.42">fraction)</text>
<rect x="189.6" y="405.6" width="7" height="6.6" fill="#1e64a8" stroke="#111" stroke-width="0.8"/>
<rect x="189.6" y="418.3" width="7" height="6.6" fill="#e0303a" stroke="#111" stroke-width="0.8"/>
<text x="202.3" y="410.8" font-size="6.6" text-anchor="start" font-weight="normal" fill="#111" stroke="#111" stroke-width="0.42" textLength="91" lengthAdjust="spacingAndGlyphs">I<tspan dx="0.35">κ</tspan><tspan dx="0.15">B</tspan>-<tspan dx="0.35">ζ</tspan> cDNA + I<tspan dx="0.35">κ</tspan><tspan dx="0.15">B</tspan>-<tspan dx="0.35">ζ</tspan> shRNA #1</text>
<text x="202.3" y="423.5" font-size="6.6" text-anchor="start" font-weight="normal" fill="#111" stroke="#111" stroke-width="0.42" textLength="94.8" lengthAdjust="spacingAndGlyphs">Empty vector + I<tspan dx="0.35">κ</tspan><tspan dx="0.15">B</tspan>-<tspan dx="0.35">ζ</tspan> shRNA #1</text>
<rect x="361.5" y="177.4" width="115" height="101.8" fill="none" stroke="#111" stroke-width="1.2"/>
<text x="383.8" y="186.5" font-size="6.6" text-anchor="middle" font-weight="normal" fill="#111" stroke="#111" stroke-width="0.42">Cell</text>
<text x="383.8" y="194.3" font-size="6.6" text-anchor="middle" font-weight="normal" fill="#111" stroke="#111" stroke-width="0.42">line</text>
<text x="421.8" y="186.5" font-size="6.6" text-anchor="middle" font-weight="normal" fill="#111" stroke="#111" stroke-width="0.42">DLBCL</text>
<text x="421.8" y="194.3" font-size="6.6" text-anchor="middle" font-weight="normal" fill="#111" stroke="#111" stroke-width="0.42">subtype</text>
<text x="454.7" y="186.5" font-size="6.6" text-anchor="middle" font-weight="normal" fill="#111" stroke="#111" stroke-width="0.42">I<tspan dx="0.35">κ</tspan><tspan dx="0.15">B</tspan>-<tspan dx="0.35">ζ</tspan></text>
<text x="454.7" y="194.3" font-size="6.6" text-anchor="middle" font-weight="normal" fill="#111" stroke="#111" stroke-width="0.42">expression</text>
<line x1="365" y1="196.8" x2="403.6" y2="196.8" stroke="#111" stroke-width="0.9"/>
<line x1="407.8" y1="196.8" x2="435.4" y2="196.8" stroke="#111" stroke-width="0.9"/>
<line x1="438.4" y1="196.8" x2="472.4" y2="196.8" stroke="#111" stroke-width="0.9"/>
<line x1="363.6" y1="203" x2="372.6" y2="203" stroke="#29226f" stroke-width="2"/>
<polygon points="368.1,200.01 371.09,203 368.1,205.99 365.11,203" fill="#29226f"/>
<text x="375.6" y="204.8" font-size="6.2" text-anchor="start" font-weight="normal" fill="#111" stroke="#111" stroke-width="0.42">OCI-Ly3</text>
<text x="422" y="204.8" font-size="6.2" text-anchor="middle" font-weight="normal" fill="#111" stroke="#111" stroke-width="0.42">ABC</text>
<text x="455.2" y="204.8" font-size="6.2" text-anchor="middle" font-weight="normal" fill="#111" stroke="#111" stroke-width="0.42">++</text>
<line x1="363.6" y1="210.4" x2="372.6" y2="210.4" stroke="#2f4e98" stroke-width="2"/>
<rect x="365.5" y="207.8" width="5.2" height="5.2" fill="#2f4e98" stroke="none" stroke-width="1"/>
<text x="375.6" y="212.2" font-size="6.2" text-anchor="start" font-weight="normal" fill="#111" stroke="#111" stroke-width="0.42">OCI-Ly10</text>
<text x="422" y="212.2" font-size="6.2" text-anchor="middle" font-weight="normal" fill="#111" stroke="#111" stroke-width="0.42">ABC</text>
<text x="455.2" y="212.2" font-size="6.2" text-anchor="middle" font-weight="normal" fill="#111" stroke="#111" stroke-width="0.42">+++</text>
<line x1="363.6" y1="218" x2="372.6" y2="218" stroke="#1b6aa8" stroke-width="2"/>
<circle cx="368.1" cy="218" r="2.73" fill="#1b6aa8"/>
<text x="375.6" y="219.8" font-size="6.2" text-anchor="start" font-weight="normal" fill="#111" stroke="#111" stroke-width="0.42">TMD8</text>
<text x="422" y="219.8" font-size="6.2" text-anchor="middle" font-weight="normal" fill="#111" stroke="#111" stroke-width="0.42">ABC</text>
<text x="455.2" y="219.8" font-size="6.2" text-anchor="middle" font-weight="normal" fill="#111" stroke="#111" stroke-width="0.42">+++</text>
<line x1="363.6" y1="225.5" x2="372.6" y2="225.5" stroke="#2ab4e8" stroke-width="2"/>
<polygon points="368.1,221.86 371.61,227.97 364.59,227.97" fill="#2ab4e8"/>
<text x="375.6" y="227.3" font-size="6.2" text-anchor="start" font-weight="normal" fill="#111" stroke="#111" stroke-width="0.42">HBL-1</text>
<text x="422" y="227.3" font-size="6.2" text-anchor="middle" font-weight="normal" fill="#111" stroke="#111" stroke-width="0.42">ABC</text>
<text x="455.2" y="227.3" font-size="6.2" text-anchor="middle" font-weight="normal" fill="#111" stroke="#111" stroke-width="0.42">++</text>
<line x1="363.6" y1="233.1" x2="372.6" y2="233.1" stroke="#8da2d6" stroke-width="2"/>
<circle cx="368.1" cy="233.1" r="2.73" fill="#8da2d6"/>
<text x="375.6" y="234.9" font-size="6.2" text-anchor="start" font-weight="normal" fill="#111" stroke="#111" stroke-width="0.42">U2932</text>
<text x="422" y="234.9" font-size="6.2" text-anchor="middle" font-weight="normal" fill="#111" stroke="#111" stroke-width="0.42">ABC</text>
<text x="455.2" y="234.9" font-size="6.2" text-anchor="middle" font-weight="normal" fill="#111" stroke="#111" stroke-width="0.42">-</text>
<line x1="363.6" y1="242.6" x2="372.6" y2="242.6" stroke="#a11a32" stroke-width="2"/>
<polygon points="368.1,238.96 371.61,245.07 364.59,245.07" fill="#a11a32"/>
<text x="375.6" y="244.4" font-size="6.2" text-anchor="start" font-weight="normal" fill="#111" stroke="#111" stroke-width="0.42">OCI-Ly1</text>
<text x="422" y="244.4" font-size="6.2" text-anchor="middle" font-weight="normal" fill="#111" stroke="#111" stroke-width="0.42">GCB</text>
<text x="455.2" y="244.4" font-size="6.2" text-anchor="middle" font-weight="normal" fill="#111" stroke="#111" stroke-width="0.42">-</text>
<line x1="363.6" y1="250.1" x2="372.6" y2="250.1" stroke="#e3302a" stroke-width="2"/>
<rect x="365.5" y="247.5" width="5.2" height="5.2" fill="#e3302a" stroke="none" stroke-width="1"/>
<text x="375.6" y="251.9" font-size="6.2" text-anchor="start" font-weight="normal" fill="#111" stroke="#111" stroke-width="0.42">OCI-Ly2</text>
<text x="422" y="251.9" font-size="6.2" text-anchor="middle" font-weight="normal" fill="#111" stroke="#111" stroke-width="0.42">GCB</text>
<text x="455.2" y="251.9" font-size="6.2" text-anchor="middle" font-weight="normal" fill="#111" stroke="#111" stroke-width="0.42">-</text>
<line x1="363.6" y1="257.5" x2="372.6" y2="257.5" stroke="#cc2644" stroke-width="2"/>
<circle cx="368.1" cy="257.5" r="2.73" fill="#cc2644"/>
<text x="375.6" y="259.3" font-size="6.2" text-anchor="start" font-weight="normal" fill="#111" stroke="#111" stroke-width="0.42">OCI-Ly7</text>
<text x="422" y="259.3" font-size="6.2" text-anchor="middle" font-weight="normal" fill="#111" stroke="#111" stroke-width="0.42">GCB</text>
<text x="455.2" y="259.3" font-size="6.2" text-anchor="middle" font-weight="normal" fill="#111" stroke="#111" stroke-width="0.42">-</text>
<line x1="363.6" y1="264.9" x2="372.6" y2="264.9" stroke="#e86462" stroke-width="2"/>
<circle cx="368.1" cy="264.9" r="2.73" fill="#e86462"/>
<text x="375.6" y="266.7" font-size="6.2" text-anchor="start" font-weight="normal" fill="#111" stroke="#111" stroke-width="0.42">HT</text>
<text x="422" y="266.7" font-size="6.2" text-anchor="middle" font-weight="normal" fill="#111" stroke="#111" stroke-width="0.42">GCB</text>
<text x="455.2" y="266.7" font-size="6.2" text-anchor="middle" font-weight="normal" fill="#111" stroke="#111" stroke-width="0.42">-</text>
<line x1="363.6" y1="272.4" x2="372.6" y2="272.4" stroke="#eba57e" stroke-width="2"/>
<polygon points="368.1,269.41 371.09,272.4 368.1,275.39 365.11,272.4" fill="#eba57e"/>
<text x="375.6" y="274.2" font-size="6.2" text-anchor="start" font-weight="normal" fill="#111" stroke="#111" stroke-width="0.42">BJAB</text>
<text x="422" y="274.2" font-size="6.2" text-anchor="middle" font-weight="normal" fill="#111" stroke="#111" stroke-width="0.42">GCB</text>
<text x="455.2" y="274.2" font-size="6.2" text-anchor="middle" font-weight="normal" fill="#111" stroke="#111" stroke-width="0.42">-</text>
</svg>
</body></html>
